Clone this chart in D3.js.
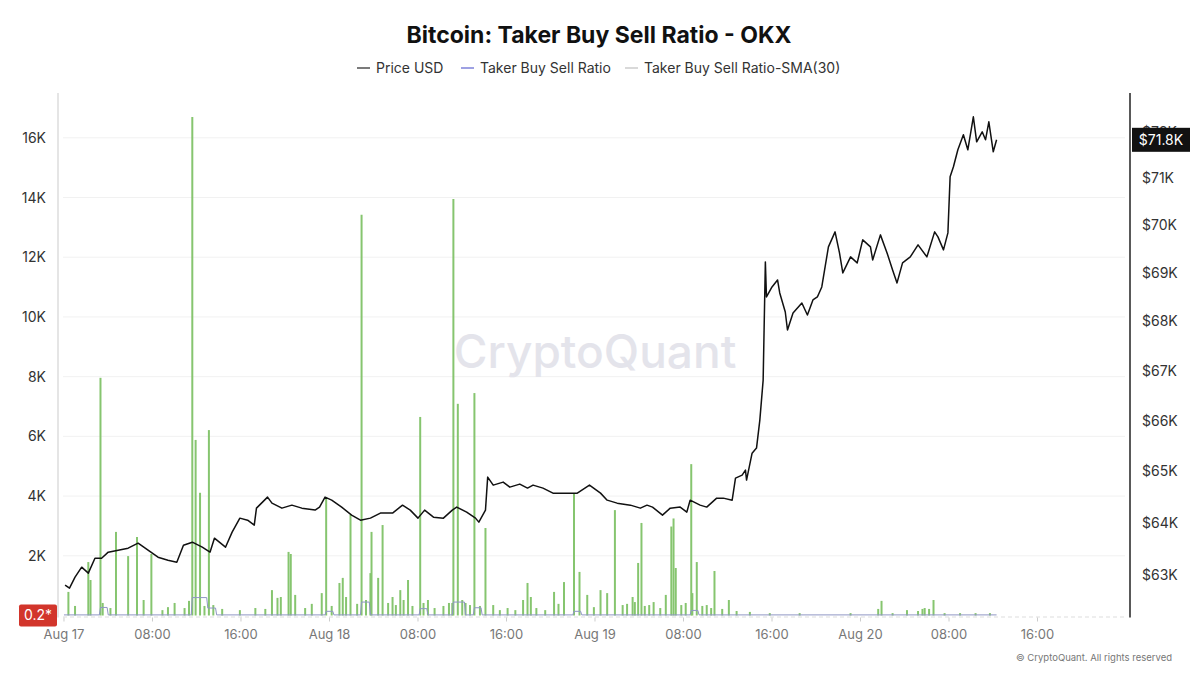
<!DOCTYPE html>
<html>
<head>
<meta charset="utf-8">
<script src="https://cdn.jsdelivr.net/npm/d3@7"></script>
<style>
  body { margin: 0; background: #fff; }
  svg { display: block; font-family: Inter, "Noto Sans", sans-serif; }
</style>
</head>
<body>
<div id="chart"></div>
<script>
  // hours since 2024-08-17 00:00 UTC, BTC price (USD)
  const priceHours = [0.1,0.5,1.0,1.6,2.2,2.8,3.4,4.0,4.9,5.8,6.7,7.6,8.5,9.4,10.2,10.8,11.6,12.5,13.2,13.6,14.6,15.2,15.9,16.6,17.2,17.4,18.4,18.8,19.7,20.6,21.5,22.7,23.1,23.6,24.2,25.1,26.0,26.8,27.7,28.6,29.7,30.6,31.3,32.0,32.6,33.4,34.3,35.1,35.5,36.4,37.2,37.5,38.1,38.3,38.8,39.7,40.3,41.2,41.9,42.4,43.3,44.2,45.5,46.4,47.5,48.5,49.1,50.0,51.2,52.1,52.7,53.2,54.1,54.8,55.7,56.3,56.6,57.5,58.1,59.0,59.6,60.4,60.7,61.3,61.6,61.7,62.2,62.6,62.9,63.2,63.4,63.5,64.0,64.5,64.7,65.2,65.4,65.9,66.7,67.2,67.7,68.1,68.5,68.8,69.1,69.7,70.1,70.4,71.1,71.7,72.2,72.9,73.1,73.8,74.4,74.9,75.3,75.8,76.5,77.2,78.0,78.7,79.0,79.5,79.9,80.1,80.4,80.8,81.3,81.7,82.2,82.5,83.0,83.3,83.6,84.0,84.3];
  const priceUSD = [62811,62754,62962,63152,63038,63323,63323,63438,63476,63514,63610,63476,63342,63285,63247,63571,63629,63533,63438,63706,63533,63821,64091,64052,63956,64284,64498,64381,64284,64342,64284,64246,64304,64498,64439,64304,64149,64052,64091,64188,64188,64342,64246,64091,64246,64110,64091,64246,64304,64207,64091,64014,64246,64887,64731,64790,64692,64751,64673,64731,64673,64575,64575,64575,64731,64575,64439,64381,64342,64284,64342,64304,64149,64284,64304,64207,64439,64342,64304,64478,64478,64439,64868,64926,65024,64829,65357,65456,66010,66810,69230,68503,68710,68855,68586,68194,67825,68173,68379,68132,68441,68503,68710,69125,69543,69858,69417,69000,69334,69209,69690,69543,69271,69795,69417,69063,68793,69209,69334,69585,69334,69858,69753,69480,69837,71025,71240,71605,71929,71605,72320,71778,71994,71821,72212,71562,71821];

  // taker buy sell ratio spikes
  const ratioHours = [0.4,1.0,2.2,2.4,3.3,3.5,4.2,4.7,5.8,6.6,7.2,7.9,8.9,9.4,10.0,10.9,11.3,11.6,11.9,12.3,12.7,13.1,13.5,14.3,15.9,17.3,18.2,18.8,19.3,19.6,20.3,20.5,20.9,21.8,22.4,23.3,23.7,24.2,24.9,25.2,25.5,25.9,26.5,26.9,27.3,27.7,27.8,28.4,28.8,29.3,29.7,30.0,30.4,30.7,31.1,31.5,32.2,32.5,32.9,33.5,34.3,34.8,35.1,35.2,35.6,36.0,36.3,36.7,37.1,37.6,38.1,38.8,39.4,40.1,40.8,41.5,41.9,42.2,42.7,43.5,44.3,44.7,45.2,46.1,46.6,47.3,47.9,48.5,49.1,49.8,50.5,50.9,51.4,51.6,51.9,52.2,52.5,52.9,53.3,53.9,54.4,54.9,55.1,55.3,55.8,56.2,56.7,56.8,57.2,57.7,58.1,58.5,58.8,59.5,60.1,60.8,62.0,63.8,66.5,71.1,73.6,73.9,74.9,76.2,77.2,77.6,77.8,78.2,78.6,79.6,81.0,82.4,83.7];
  const ratioValues = [790,320,1790,1190,7960,420,250,2800,1990,2630,520,2060,180,280,420,250,490,16700,5880,4110,320,6210,350,220,180,250,220,850,590,620,2130,2060,690,250,390,750,3970,320,1090,1260,620,3370,390,13420,520,1420,2800,1260,3030,420,620,350,850,520,1190,320,6650,420,520,250,320,420,420,13950,7090,520,420,350,7450,320,2930,350,180,250,180,520,1090,620,250,180,790,390,1120,4100,1460,690,280,850,750,3530,350,390,620,450,1760,3100,320,350,450,250,690,2980,3250,1590,350,420,5070,750,1790,320,350,250,1490,220,520,150,120,80,80,80,220,490,80,180,150,220,250,220,520,80,80,80,80];

  // SMA(30) line
  const smaHours = [0,3.2,3.3,3.9,4.0,11.5,11.6,12.9,13.0,13.7,13.8,23.6,23.7,24.3,24.4,26.8,26.9,27.6,27.7,32.1,32.2,32.8,32.9,35.1,35.2,36.2,36.3,37.0,37.1,37.7,37.8,46.0,46.1,46.7,46.8,56.6,56.7,57.3,57.4,84.3];
  const smaValues = [20,20,270,270,20,20,600,600,250,250,20,20,140,140,20,20,450,450,20,20,230,230,20,20,450,450,20,20,260,260,20,20,140,140,20,20,170,170,20,20];

  const leftTicks = [2000,4000,6000,8000,10000,12000,14000,16000];
  const rightTicks = [63000,64000,65000,66000,67000,68000,69000,70000,71000,72000];
  const xTickHours = [0,8,16,24,32,40,48,56,64,72,80,88];
  const legendItems = [
    {name: 'Price USD', color: '#333'},
    {name: 'Taker Buy Sell Ratio', color: '#6a6fd4'},
    {name: 'Taker Buy Sell Ratio-SMA(30)', color: '#c4c4c4'}
  ];

  const width = 1200, height = 675;
  const plotL = 58, plotR = 1130, plotT = 93, baseY = 615.5;
  const t0 = Date.UTC(2024, 7, 17);
  const toDate = (h) => new Date(t0 + h * 3600e3);

  const svg = d3.select('#chart').append('svg')
    .attr('width', width)
    .attr('height', height);

  const x = d3.scaleUtc()
    .domain([toDate(-0.54), toDate(96.36)])
    .range([plotL, plotR]);
  const yL = d3.scaleLinear().domain([0, 17500]).range([baseY, plotT]);
  const yR = d3.scaleLog().domain([62240, 72840]).range([baseY, plotT]);

  // title + legend
  svg.append('text')
    .attr('x', 599).attr('y', 43)
    .attr('text-anchor', 'middle')
    .attr('font-size', 23).attr('font-weight', 700).attr('fill', '#111')
    .text('Bitcoin: Taker Buy Sell Ratio - OKX');

  const legendX = [357, 461, 625];
  let lg = svg.selectAll('.legend').data(legendItems).enter().append('g')
    .attr('class', 'legend')
    .attr('transform', (d, i) => `translate(${legendX[i]}, 68)`);
  lg.append('line').attr('x1', 0).attr('x2', 13).attr('stroke', (d) => d.color).attr('stroke-width', 1.3);
  lg.append('text').attr('x', 19).attr('y', 5).attr('font-size', 14).attr('fill', '#333').text((d) => d.name);

  // gridlines
  svg.append('g').selectAll('line').data(leftTicks).enter().append('line')
    .attr('x1', plotL + 5).attr('x2', plotR - 5)
    .attr('y1', (d) => yL(d)).attr('y2', (d) => yL(d))
    .attr('stroke', '#f1f1f1');
  svg.append('line')
    .attr('x1', plotL + 5).attr('x2', plotR - 5)
    .attr('y1', baseY + 1.5).attr('y2', baseY + 1.5)
    .attr('stroke', '#ddd').attr('stroke-dasharray', '4,3');

  // watermark
  svg.append('text')
    .attr('x', 595).attr('y', 368)
    .attr('text-anchor', 'middle')
    .attr('font-size', 46).attr('font-weight', 500).attr('fill', '#e4e4eb')
    .text('CryptoQuant');

  // axes lines
  svg.append('line').attr('x1', plotL).attr('x2', plotL).attr('y1', plotT).attr('y2', baseY + 2)
    .attr('stroke', '#ddd').attr('stroke-width', 1.5);
  svg.append('line').attr('x1', plotR).attr('x2', plotR).attr('y1', plotT).attr('y2', baseY + 2)
    .attr('stroke', '#222').attr('stroke-width', 1.5);

  // ratio bars
  const ratio = ratioHours.map((h, i) => ({t: toDate(h), v: ratioValues[i]}));
  svg.append('g').selectAll('line').data(ratio).enter().append('line')
    .attr('x1', (d) => x(d.t)).attr('x2', (d) => x(d.t))
    .attr('y1', yL(0)).attr('y2', (d) => yL(d.v))
    .attr('stroke', '#86c56f').attr('stroke-width', 2);

  // sma line
  const sma = smaHours.map((h, i) => ({t: toDate(h), v: smaValues[i]}));
  svg.append('path').datum(sma)
    .attr('fill', 'none').attr('stroke', '#8f96c4').attr('stroke-width', 1)
    .attr('d', d3.line().x((d) => x(d.t)).y((d) => yL(d.v)));

  // price line
  const price = priceHours.map((h, i) => ({t: toDate(h), v: priceUSD[i]}));
  svg.append('path').datum(price)
    .attr('fill', 'none').attr('stroke', '#111').attr('stroke-width', 1.5)
    .attr('stroke-linejoin', 'round')
    .attr('d', d3.line().x((d) => x(d.t)).y((d) => yR(d.v)));

  // left axis labels
  svg.append('g').selectAll('text').data(leftTicks).enter().append('text')
    .attr('x', 46).attr('y', (d) => yL(d) + 5)
    .attr('text-anchor', 'end').attr('font-size', 14).attr('fill', '#333')
    .text((d) => d / 1000 + 'K');

  // right axis labels
  svg.append('g').selectAll('text').data(rightTicks).enter().append('text')
    .attr('x', 1142).attr('y', (d) => yR(d) + 5)
    .attr('font-size', 14).attr('fill', '#333')
    .text((d) => '$' + d / 1000 + 'K');

  // x axis
  let xa = svg.append('g').selectAll('g').data(xTickHours).enter().append('g')
    .attr('transform', (d) => `translate(${x(toDate(d))}, 0)`);
  xa.append('line').attr('y1', baseY + 2).attr('y2', baseY + 6).attr('stroke', '#ccc');
  xa.append('text').attr('y', 639).attr('text-anchor', 'middle')
    .attr('font-size', 13).attr('fill', '#777')
    .text((d) => d % 24 === 0 ? d3.utcFormat('%b %d')(toDate(d)) : d3.utcFormat('%H:%M')(toDate(d)));

  // current value labels
  const last = priceUSD[priceUSD.length - 1];
  let pl = svg.append('g').attr('transform', `translate(1132, ${yR(last)})`);
  pl.append('rect').attr('x', 0).attr('y', -12).attr('width', 58).attr('height', 24).attr('fill', '#111');
  pl.append('text').attr('x', 29).attr('y', 5).attr('text-anchor', 'middle')
    .attr('font-size', 14).attr('fill', '#fff').text('$' + (last / 1000).toFixed(1) + 'K');

  let rl = svg.append('g').attr('transform', `translate(19, ${yL(0.2)})`);
  rl.append('rect').attr('x', 0).attr('y', -11).attr('width', 38).attr('height', 22).attr('rx', 2).attr('fill', '#d2352b');
  rl.append('text').attr('x', 19).attr('y', 5).attr('text-anchor', 'middle')
    .attr('font-size', 14).attr('fill', '#fff').text('0.2*');

  // footer
  svg.append('text')
    .attr('x', 1172).attr('y', 661)
    .attr('text-anchor', 'end').attr('font-size', 9.5).attr('fill', '#777')
    .text('© CryptoQuant. All rights reserved');
</script>
</body>
</html>
